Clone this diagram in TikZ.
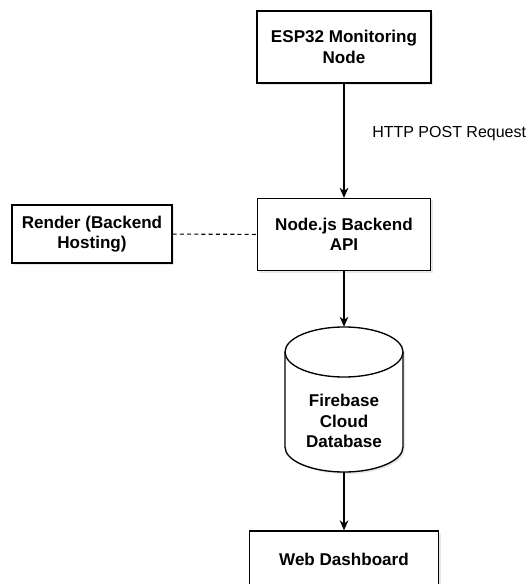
\documentclass[tikz,border=0pt]{standalone}
\usepackage{fontspec}
\setmainfont{Liberation Sans}
\usetikzlibrary{arrows.meta,shadows}
\tikzstyle{box}=[rectangle,draw=black,fill=white,line width=1pt,align=center,
  inner sep=0pt,font=\fontsize{12.8}{15.4}\selectfont\bfseries,
  drop shadow={opacity=0.18,shadow xshift=1.5pt,shadow yshift=-1.5pt}]
\tikzstyle{dbtext}=[align=center,inner sep=0pt,
  font=\fontsize{12.8}{15.4}\selectfont\bfseries]
\tikzstyle{lbl}=[inner sep=0pt,anchor=west,font=\fontsize{12}{14.4}\selectfont]
\tikzstyle{arr}=[line width=1pt,-{Stealth[length=7.5pt,width=6.5pt]}]
\tikzstyle{link}=[line width=0.8pt,dash pattern=on 3pt off 2.4pt]
\tikzstyle{none}=[]

\begin{document}
\begin{tikzpicture}[x=0.75pt,y=0.75pt]
    \useasboundingbox (0,0) rectangle (529,-584);
    \clip (0,0) rectangle (529,-584);
            \node [style=box,minimum width=130.5pt,minimum height=54pt] (0) at (344, -47) {ESP32 Monitoring\\Node};
            \node [style=box,minimum width=130pt,minimum height=54pt] (1) at (344, -234.5) {Node.js Backend\\API};
            \node [style=box,minimum width=120pt,minimum height=43.5pt] (2) at (92, -234) {Render (Backend\\Hosting)};
            \draw [line width=1pt,fill=white,drop shadow={opacity=0.18,shadow xshift=1.5pt,shadow yshift=-1.5pt}]
                (285, -352) -- (285, -447) arc [start angle=180, end angle=360, x radius=59, y radius=25]
                -- (403, -352) arc [start angle=0, end angle=180, x radius=59, y radius=25] -- cycle;
            \draw [line width=1pt] (285, -352) arc [start angle=180, end angle=360, x radius=59, y radius=25];
            \node [style=none,minimum width=88.5pt,minimum height=108.75pt,inner sep=0pt] (3) at (344, -399.5) {};
            \node [style=dbtext] (6) at (344, -421) {Firebase\\Cloud\\Database};
            \node [style=box,minimum width=141.75pt,minimum height=42pt] (4) at (344, -559) {Web Dashboard};
            \node [style=lbl] (5) at (372, -134) {HTTP POST Request};
            \draw [style=arr] (0) to (1);
            \draw [style=link] (2) to (1);
            \draw [style=arr] (1) to (3);
            \draw [style=arr] (3) to (4);
    \end{tikzpicture}
\end{document}
